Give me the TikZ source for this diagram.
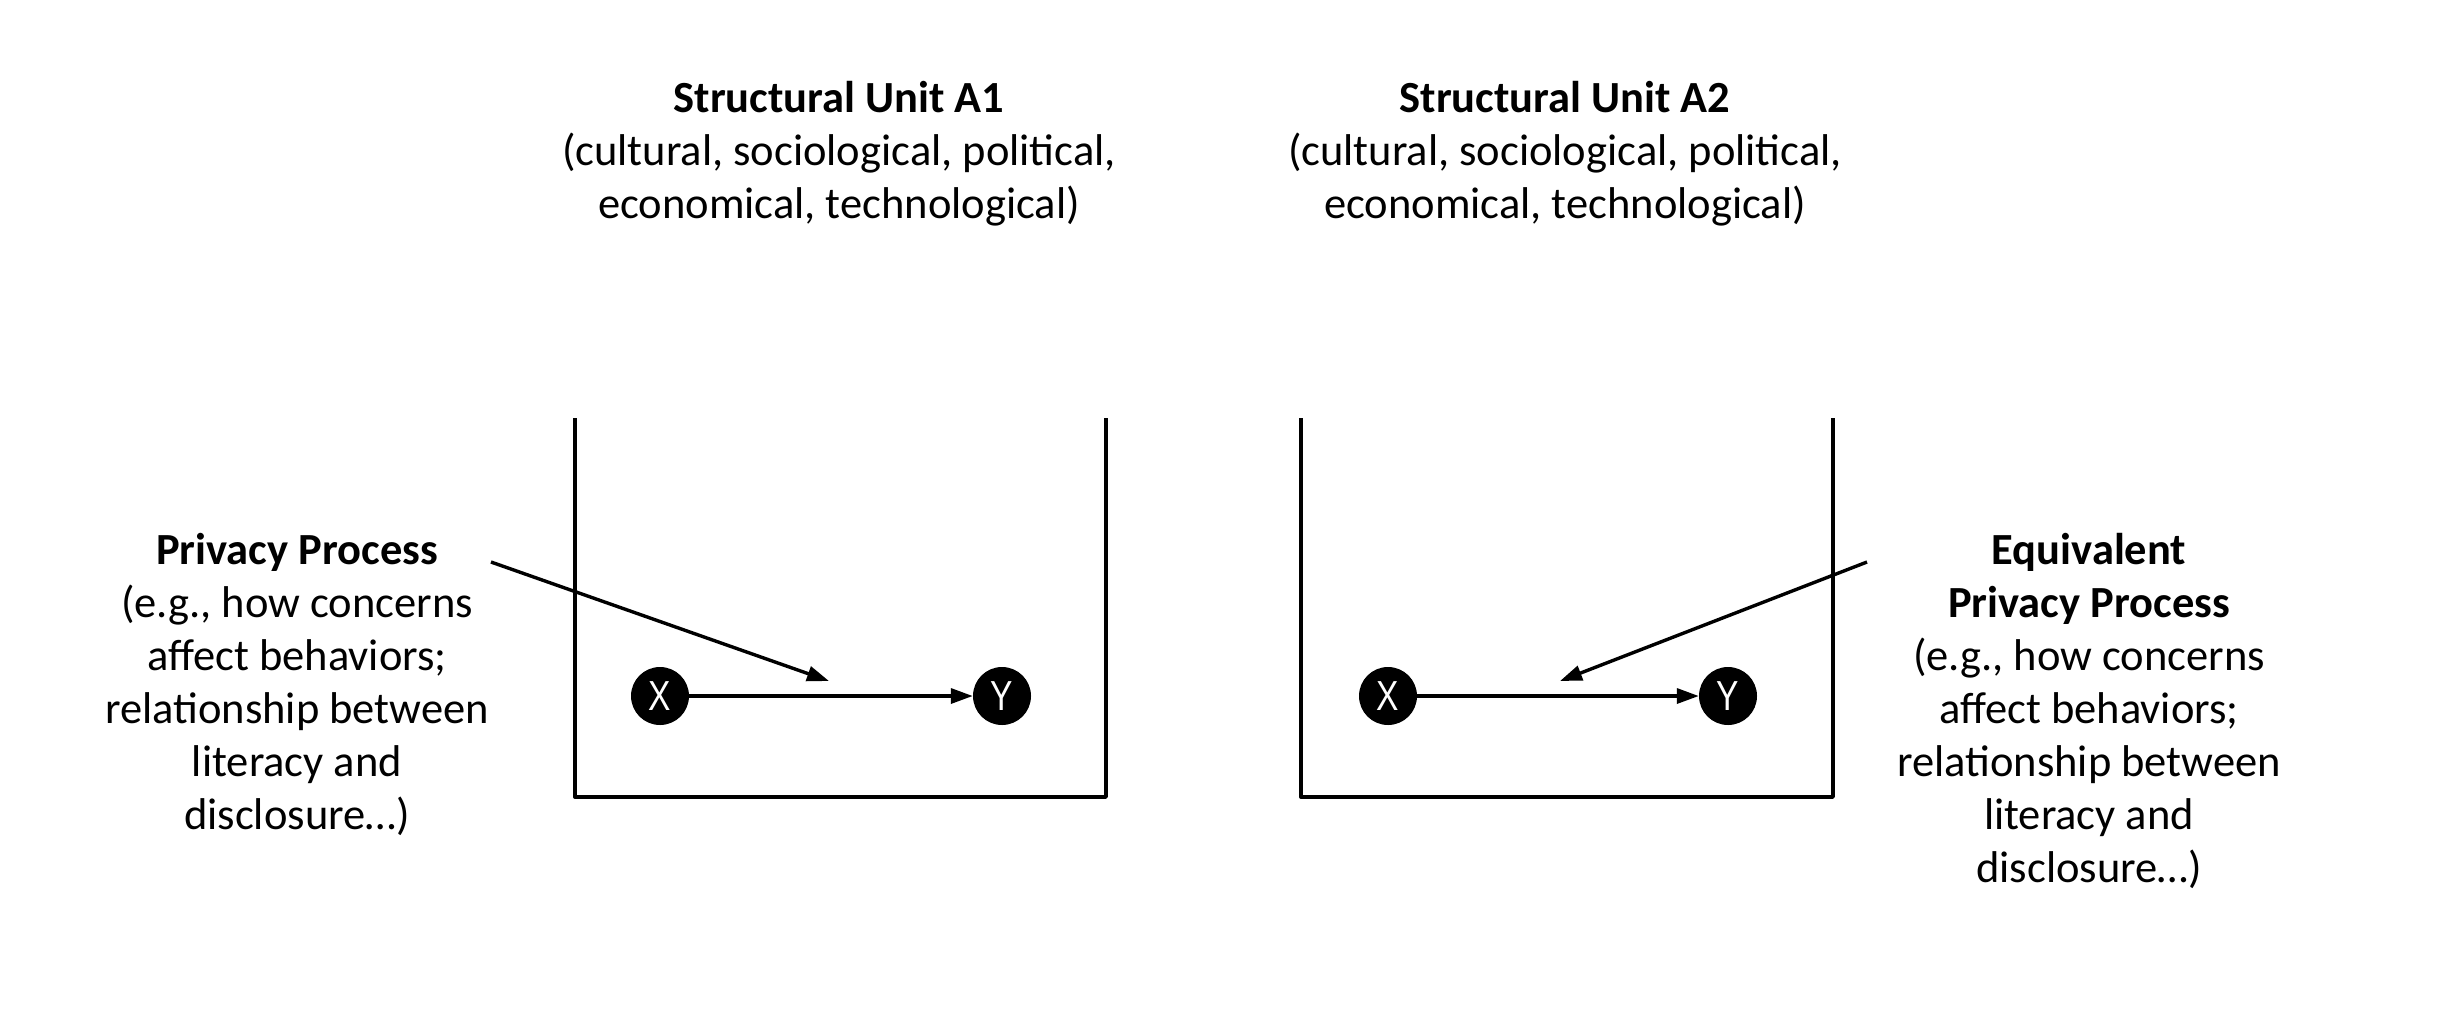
\documentclass[tikz,border=0pt]{standalone}
\usepackage{fontspec}
\setmainfont{Carlito}
\newfontfamily\varfont{Liberation Sans}
\usetikzlibrary{arrows.meta}
\newcommand{\narrowtxt}[1]{\scalebox{0.8}[1]{#1}}
\begin{document}
\begin{tikzpicture}[x=1pt,y=-1pt,
  txt/.style={align=center,inner sep=0pt,font=\fontsize{44.5}{53}\selectfont},
  boxline/.style={line width=3.4pt,line join=round},
  var/.style={circle,fill=black,minimum size=58pt,inner sep=0pt,text=white,font=\varfont\fontsize{42}{44}\selectfont},
  arr/.style={line width=3.4pt,-{Triangle[length=22pt,width=15pt]}}]
\useasboundingbox (0,0) rectangle (2446,1010);
% titles
\node[txt] (t1) at (839,154) {\textbf{Structural Unit A1}\\(cultural, sociological, political,\\economical, technological)};
\node[txt] (t2) at (1565,154) {\textbf{Structural Unit A2}\\(cultural, sociological, political,\\economical, technological)};
% boxes
\draw[boxline] (575,418) -- (575,797) -- (1106,797) -- (1106,418);
\draw[boxline] (1301,418) -- (1301,797) -- (1833,797) -- (1833,418);
% variables
\node[var] (x1) at (660,696) {\narrowtxt{X}};
\node[var] (y1) at (1002,696) {\narrowtxt{Y}};
\node[var] (x2) at (1388,696) {\narrowtxt{X}};
\node[var] (y2) at (1728,696) {\narrowtxt{Y}};
\draw[arr] (x1) -- (y1);
\draw[arr] (x2) -- (y2);
% process labels
\node[txt] (p1) at (297,684) {\textbf{Privacy Process}\\(e.g., how concerns\\affect behaviors;\\relationship between\\literacy and\\disclosure…)};
\node[txt] (p2) at (2089,711) {\textbf{Equivalent}\\\textbf{Privacy Process}\\(e.g., how concerns\\affect behaviors;\\relationship between\\literacy and\\disclosure…)};
\coordinate (s1) at (491,562);
\coordinate (e1) at (829,681);
\coordinate (s2) at (1867,562);
\coordinate (e2) at (1560,681);
\draw[arr] (s1) -- (e1);
\draw[arr] (s2) -- (e2);
\end{tikzpicture}
\end{document}
